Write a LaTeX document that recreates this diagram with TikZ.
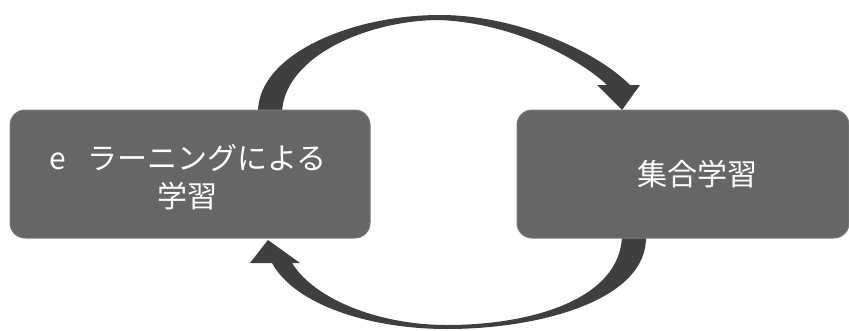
\documentclass[tikz,border=0pt]{standalone}
\usepackage{fontspec}
\setmainfont{Noto Sans CJK JP}
\definecolor{boxgray}{HTML}{666666}
\definecolor{boxedge}{HTML}{7C7C7C}
\definecolor{arrowgray}{HTML}{3F3F3F}
\tikzset{
  stagebox/.style={rectangle, rounded corners=15pt, fill=boxgray, draw=boxedge, line width=1pt,
    minimum height=128pt, inner sep=0pt},
  stagetext/.style={text=white, align=center, font=\fontsize{30}{38}\selectfont, inner sep=0pt},
  bigarrow/.style={fill=arrowgray, draw=none}
}
\begin{document}
\begin{tikzpicture}[x=1pt,y=-1pt]
\useasboundingbox (0,0) rectangle (849,330);
% top curved arrow
\fill[bigarrow] (258,112) .. controls (258,55) and (350,15) .. (440,15)
  .. controls (515,15) and (595,50) .. (630,85) -- (640,85) -- (622,110) -- (597,85) -- (607,85)
  .. controls (590,68) and (525,24) .. (440,20)
  .. controls (370,20) and (285,55) .. (282,112) -- cycle;
% bottom curved arrow
\fill[bigarrow] (646,236) .. controls (648,300) and (540,329) .. (447,329)
  .. controls (370,329) and (295,305) .. (272,263) -- (250,263) -- (268,240) -- (300,263) -- (292,263)
  .. controls (315,300) and (380,325) .. (447,325)
  .. controls (530,325) and (620,300) .. (622,236) -- cycle;
% boxes
\node[stagebox, minimum width=360pt] (L) at (190,174) {};
\node[stagetext] (Lt) at (188,177) {e\hspace{22pt}ラーニングによる\\学習};
\node[stagebox, minimum width=332pt] (R) at (683,174) {};
\node[stagetext] (Rt) at (697,174) {集合学習};
\end{tikzpicture}
\end{document}
